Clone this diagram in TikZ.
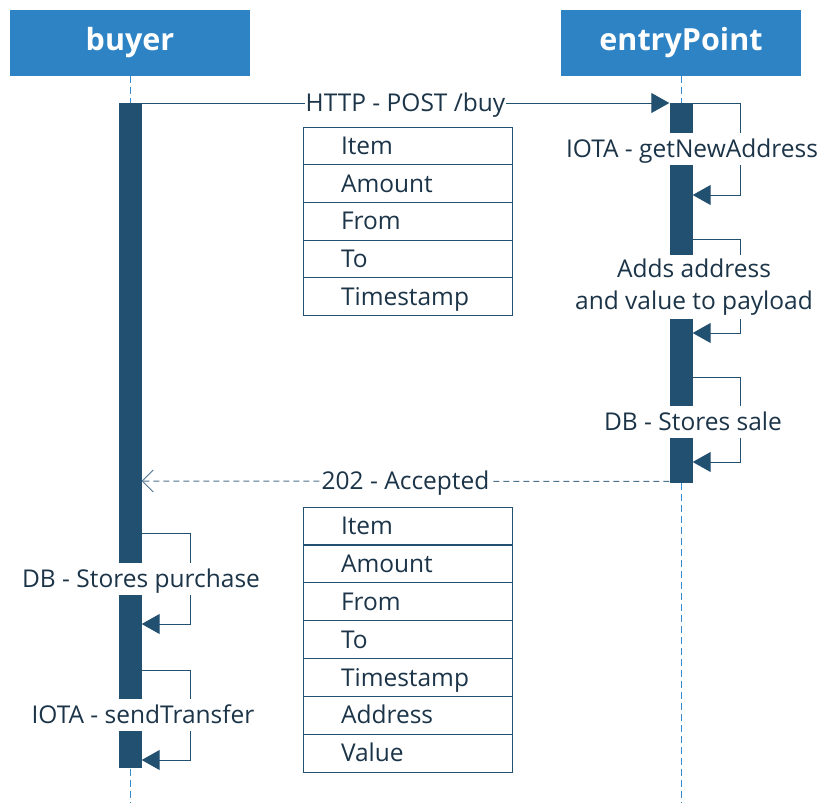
\documentclass[tikz,border=0pt]{standalone}
\usepackage{fontspec}
\setmainfont{Open Sans}
\usetikzlibrary{positioning}
\usetikzlibrary{arrows.meta}
\definecolor{headblue}{RGB}{46,131,196}
\definecolor{bardark}{RGB}{33,80,112}
\definecolor{inkdark}{RGB}{28,52,72}
\definecolor{lineblue}{RGB}{52,140,205}
\newcommand{\lblfont}{\fontsize{24.5}{32}\selectfont}

\begin{document}
\begin{tikzpicture}[x=1pt,y=-1pt,
  head/.style={fill=headblue,text=white,font=\fontsize{30.5}{34}\selectfont\bfseries,minimum width=240pt,minimum height=66pt,inner sep=0pt},
  life/.style={lineblue,dash pattern=on 7pt off 4pt,line width=0.8pt},
  bar/.style={fill=bardark,minimum width=23pt,inner sep=0pt,anchor=north},
  msg/.style={bardark,line width=1pt},
  tipfull/.style={-{Triangle[length=18pt,width=20pt]}},
  tipopen/.style={-{Straight Barb[length=11pt,width=22pt,line width=0.8pt]}},
  lbl/.style={fill=white,text=inkdark,font=\lblfont,inner xsep=1pt,inner ysep=3.5pt,text height=21pt,text depth=4pt},
  lbltwo/.style={fill=white,text=inkdark,font=\lblfont,inner xsep=1pt,inner ysep=4pt,align=center},
  row/.style={draw=bardark,line width=0.9pt,text=inkdark,font=\lblfont,inner xsep=38pt,inner ysep=0pt,text width=133pt,text height=21pt,text depth=4pt,minimum height=37.8pt,align=left}]
 \useasboundingbox (0,0) rectangle (830,803);
 % lifelines
 \node[head] (buyer) at (130,43) {buyer};
 \node[head] (entry) at (681,43) {entryPoint};
 \coordinate (buyerend) at (130,803);
 \coordinate (entryend) at (681,803);
 \draw[life] (buyer.south) -- (buyerend);
 \draw[life] (entry.south) -- (entryend);
 % activations
 \node[bar,minimum height=665pt] (buyerbar) at (130,103) {};
 \node[bar,minimum height=380pt] (entrybar) at (681,103) {};
 % messages
 \draw[msg,tipfull] (buyerbar.north east) -- (entrybar.north west) node[lbl,midway] (post) {HTTP - POST /buy};
 \draw[msg,dashed,dash pattern=on 6pt off 4pt,tipopen,bardark!80] ([yshift=2pt]entrybar.south west) -- (buyerbar.east |- 0,481) node[lbl,midway] (accepted) {202 - Accepted};
 % self calls entryPoint
 \draw[msg,tipfull] (entrybar.north east) -- ++(48,0) |- (entrybar.east |- 0,195);
 \draw[msg,tipfull] (entrybar.east |- 0,239) -- ++(48,0) |- (entrybar.east |- 0,333);
 \draw[msg,tipfull] (entrybar.east |- 0,377) -- ++(48,0) |- (entrybar.east |- 0,462);
 \node[lbl] (newaddr) at (692,148.5) {IOTA - getNewAddress};
 \node[lbltwo] (payload) at (694,287) {Adds address\\and value to payload};
 \node[lbl] (sale) at (693,422) {DB - Stores sale};
 % self calls buyer
 \draw[msg,tipfull] (buyerbar.east |- 0,533) -- ++(49,0) |- (buyerbar.east |- 0,624);
 \draw[msg,tipfull] (buyerbar.east |- 0,670) -- ++(49,0) |- (buyerbar.east |- 0,760);
 \node[lbl] (purchase) at (141,579) {DB - Stores purchase};
 \node[lbl] (transfer) at (143,715) {IOTA - sendTransfer};
 % payloads
 \foreach \t [count=\i] in {Item,Amount,From,To,Timestamp}
  \node[row] (req\i) at (407.5,127+37.7*\i-18.85) {\t};
 \foreach \t [count=\i] in {Item,Amount,From,To,Timestamp,Address,Value}
  \node[row] (res\i) at (407.5,507+37.9*\i-18.95) {\t};
\end{tikzpicture}
\end{document}
